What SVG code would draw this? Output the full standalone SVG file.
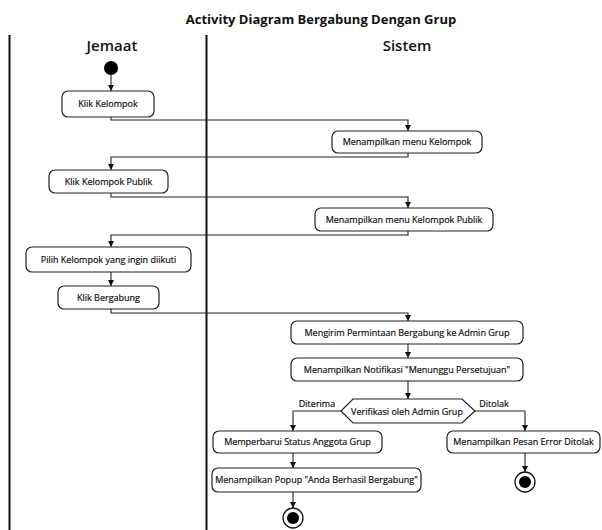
<svg xmlns="http://www.w3.org/2000/svg" width="602" height="530" viewBox="0 0 602 530">
  <style>
    text { font-family: "Open Sans", "Noto Sans", "Liberation Sans", sans-serif; fill: #111; }
    .title { font-size: 13px; font-weight: 700; text-anchor: middle; }
    .lane-title { font-size: 15px; font-weight: 600; text-anchor: middle; }
    .label { font-size: 9px; text-anchor: middle; stroke: #111; stroke-width: 0.2; }
    .guard { font-size: 9px; text-anchor: middle; stroke: #111; stroke-width: 0.2; }
    .box { fill: #fff; stroke: #222; stroke-width: 1.2; }
    .lane { stroke: #111; stroke-width: 2; }
    .edge { fill: none; stroke: #222; stroke-width: 1.1; }
  </style>
  <defs>
    <marker id="arrow" viewBox="0 0 8 8" refX="8" refY="4" markerWidth="6" markerHeight="6" orient="auto" markerUnits="userSpaceOnUse">
      <path d="M0,0 L8,4 L0,8 z" fill="#111"/>
    </marker>
  </defs>

  <rect width="602" height="530" fill="#fff"/>

  <text class="title" x="321" y="24">Activity Diagram Bergabung Dengan Grup</text>

  <!-- swimlanes -->
  <g id="lanes">
    <line class="lane" x1="9.5" y1="35" x2="9.5" y2="530"/>
    <line class="lane" x1="206.5" y1="35" x2="206.5" y2="530"/>
    <text class="lane-title" x="112" y="51">Jemaat</text>
    <text class="lane-title" x="407" y="51">Sistem</text>
  </g>

  <!-- connectors -->
  <g id="connectors">
    <path class="edge" marker-end="url(#arrow)" d="M111,75 V91"/>
    <path class="edge" marker-end="url(#arrow)" d="M111,117 V120 H408 V131"/>
    <path class="edge" marker-end="url(#arrow)" d="M408,153 V157 H111 V170"/>
    <path class="edge" marker-end="url(#arrow)" d="M111,193 V197 H408 V208"/>
    <path class="edge" marker-end="url(#arrow)" d="M408,231 V235 H111 V247"/>
    <path class="edge" marker-end="url(#arrow)" d="M111,272 V286"/>
    <path class="edge" marker-end="url(#arrow)" d="M111,309 V313 H408 V321"/>
    <path class="edge" marker-end="url(#arrow)" d="M408,344 V358"/>
    <path class="edge" marker-end="url(#arrow)" d="M408,381 V399"/>
    <path class="edge" marker-end="url(#arrow)" d="M341,411 H293 V431"/>
    <path class="edge" marker-end="url(#arrow)" d="M475,411 H525 V431"/>
    <path class="edge" marker-end="url(#arrow)" d="M293,453 V468"/>
    <path class="edge" marker-end="url(#arrow)" d="M293,492 V508"/>
    <path class="edge" marker-end="url(#arrow)" d="M525,453 V472"/>
    <text class="guard" x="317" y="407">Diterima</text>
    <text class="guard" x="494" y="407">Ditolak</text>
  </g>

  <!-- nodes -->
  <g id="start">
    <circle cx="111" cy="68" r="7" fill="#000"/>
  </g>

  <g id="klik-kelompok">
    <rect class="box" x="62" y="91" width="92" height="26" rx="6"/>
    <text class="label" x="108" y="107">Klik Kelompok</text>
  </g>

  <g id="menu-kelompok">
    <rect class="box" x="332" y="131" width="150" height="22" rx="6"/>
    <text class="label" x="407" y="145">Menampilkan menu Kelompok</text>
  </g>

  <g id="klik-kelompok-publik">
    <rect class="box" x="49" y="170" width="119" height="23" rx="6"/>
    <text class="label" x="108.5" y="184.5">Klik Kelompok Publik</text>
  </g>

  <g id="menu-kelompok-publik">
    <rect class="box" x="315" y="208" width="178" height="23" rx="6"/>
    <text class="label" x="404" y="222.5">Menampilkan menu Kelompok Publik</text>
  </g>

  <g id="pilih-kelompok">
    <rect class="box" x="26" y="247" width="165" height="25" rx="6"/>
    <text class="label" x="108.5" y="262.5">Pilih Kelompok yang ingin diikuti</text>
  </g>

  <g id="klik-bergabung">
    <rect class="box" x="58" y="286" width="101" height="23" rx="6"/>
    <text class="label" x="108.5" y="300.5">Klik Bergabung</text>
  </g>

  <g id="kirim-permintaan">
    <rect class="box" x="291" y="321" width="232" height="23" rx="6"/>
    <text class="label" x="407" y="335.5">Mengirim Permintaan Bergabung ke Admin Grup</text>
  </g>

  <g id="notifikasi">
    <rect class="box" x="291" y="358" width="232" height="23" rx="6"/>
    <text class="label" x="407" y="372.5">Menampilkan Notifikasi "Menunggu Persetujuan"</text>
  </g>

  <g id="verifikasi">
    <polygon class="box" points="353,399 462,399 475,411 462,423 353,423 341,411"/>
    <text class="label" x="407" y="414.5">Verifikasi oleh Admin Grup</text>
  </g>

  <g id="perbarui-status">
    <rect class="box" x="213" y="431" width="169" height="22" rx="6"/>
    <text class="label" x="297.5" y="445">Memperbarui Status Anggota Grup</text>
  </g>

  <g id="pesan-error">
    <rect class="box" x="447" y="431" width="153" height="22" rx="6"/>
    <text class="label" x="523.5" y="445">Menampilkan Pesan Error Ditolak</text>
  </g>

  <g id="popup-berhasil">
    <rect class="box" x="212" y="468" width="209" height="24" rx="6"/>
    <text class="label" x="316.5" y="483">Menampilkan Popup "Anda Berhasil Bergabung"</text>
  </g>

  <g id="end-diterima">
    <circle cx="293" cy="518" r="10" fill="#fff" stroke="#111" stroke-width="1.3"/>
    <circle cx="293" cy="518" r="6" fill="#000"/>
  </g>

  <g id="end-ditolak">
    <circle cx="525" cy="482" r="10" fill="#fff" stroke="#111" stroke-width="1.3"/>
    <circle cx="525" cy="482" r="6" fill="#000"/>
  </g>
</svg>
